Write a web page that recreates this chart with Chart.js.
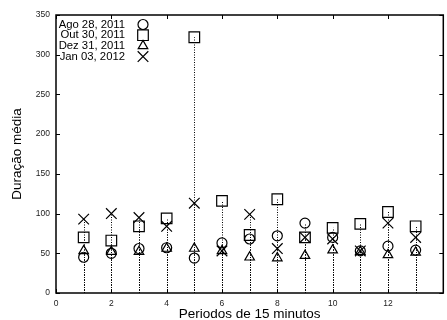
<!DOCTYPE html>
<html>
<head>
<meta charset="utf-8">
<script src="https://cdn.jsdelivr.net/npm/chart.js@4/dist/chart.umd.min.js"></script>
<style>
  html, body { margin: 0; padding: 0; overflow: hidden; background: #fff; }
  #wrap { width: 452px; height: 320px; }
</style>
</head>
<body>
<div id="wrap"><canvas id="chart" width="452" height="320"></canvas></div>
<script>
// periodos de 15 minutos
const periods = [1, 2, 3, 4, 5, 6, 7, 8, 9, 10, 11, 12, 13];

// duracao media por dia
const ago28 = [45, 50, 56, 57, 44, 63, 68, 72, 88, 70, 53, 59, 54];
const out30 = [70, 66, 84, 94, 322, 116, 73, 118, 70, 82, 87, 102, 84];
const dez31 = [53, 52, 52, 56, 56, 53, 45, 44, 47, 54, 52, 48, 51];
const jan03 = [93, 100, 95, 84, 113, 53, 99, 56, 70, 68, 53, 88, 70];

const seriesNames = ["Ago 28, 2011", "Out 30, 2011", "Dez 31, 2011", "Jan 03, 2012"];
const xTickLabels = [0, 2, 4, 6, 8, 10, 12];
const yTickLabels = [0, 50, 100, 150, 200, 250, 300, 350];

const FONT = "'Liberation Sans', Arial, Helvetica, sans-serif";

const toPoints = (values) => values.map((v, i) => ({ x: periods[i], y: v }));

const makeSet = (label, values, style, radius) => ({
  label: label,
  data: toPoints(values),
  pointStyle: style,
  pointRadius: radius,
  pointHoverRadius: radius,
  pointBorderWidth: 1.2,
  pointBorderColor: "#000",
  pointBackgroundColor: "rgba(0,0,0,0)",
  borderColor: "#000",
  backgroundColor: "rgba(0,0,0,0)",
  showLine: false,
});

// impulses, border box with inner ticks, key in the top left corner
const gnuplotLook = {
  id: "gnuplotLook",
  beforeDatasetsDraw(chart) {
    const { ctx, scales: { x, y } } = chart;
    ctx.save();
    ctx.strokeStyle = "#000";
    ctx.lineWidth = 1;
    ctx.setLineDash([1, 1.5]);
    chart.data.datasets.forEach((ds) => {
      ds.data.forEach((p) => {
        const px = Math.round(x.getPixelForValue(p.x)) + 0.5;
        ctx.beginPath();
        ctx.moveTo(px, y.getPixelForValue(0));
        ctx.lineTo(px, y.getPixelForValue(p.y));
        ctx.stroke();
      });
    });
    ctx.restore();
  },
  afterDatasetsDraw(chart) {
    const { ctx, chartArea: a, scales: { x, y } } = chart;
    ctx.save();
    ctx.strokeStyle = "#000";
    ctx.lineWidth = 1.5;
    ctx.strokeRect(a.left, a.top, a.right - a.left, a.bottom - a.top);

    ctx.lineWidth = 1;
    const tl = 4;
    ctx.beginPath();
    xTickLabels.forEach((v) => {
      const px = Math.round(x.getPixelForValue(v)) + 0.5;
      ctx.moveTo(px, a.bottom);
      ctx.lineTo(px, a.bottom - tl);
      ctx.moveTo(px, a.top);
      ctx.lineTo(px, a.top + tl);
    });
    yTickLabels.forEach((v) => {
      const py = Math.round(y.getPixelForValue(v)) + 0.5;
      ctx.moveTo(a.left, py);
      ctx.lineTo(a.left + tl, py);
      ctx.moveTo(a.right, py);
      ctx.lineTo(a.right - tl, py);
    });
    ctx.stroke();

    // key
    ctx.font = "11.3px " + FONT;
    ctx.fillStyle = "#000";
    ctx.textAlign = "right";
    ctx.textBaseline = "middle";
    chart.data.datasets.forEach((ds, i) => {
      const rowY = a.top + 9.5 + i * 10.7;
      ctx.fillText(ds.label, 125, rowY);
      ctx.strokeStyle = "#000";
      ctx.fillStyle = "rgba(0,0,0,0)";
      ctx.lineWidth = 1.2;
      Chart.helpers.drawPoint(ctx, {
        pointStyle: ds.pointStyle,
        radius: ds.pointRadius,
        rotation: 0,
        borderWidth: 1.2,
      }, 143, rowY);
      ctx.fillStyle = "#000";
    });
    ctx.restore();
  },
};

new Chart(document.getElementById("chart"), {
  type: "scatter",
  data: {
    datasets: [
      makeSet(seriesNames[0], ago28, "circle", 5),
      makeSet(seriesNames[1], out30, "rect", 7.5),
      makeSet(seriesNames[2], dez31, "triangle", 5.5),
      makeSet(seriesNames[3], jan03, "crossRot", 7.5),
    ],
  },
  options: {
    responsive: false,
    animation: false,
    devicePixelRatio: 1,
    layout: { padding: { top: 15, right: 2, left: 0, bottom: 0 } },
    plugins: {
      legend: { display: false },
      tooltip: { enabled: false },
    },
    scales: {
      x: {
        type: "linear",
        min: 0,
        max: 14,
        afterFit: (scale) => { scale.height = 27; },
        afterBuildTicks: (scale) => {
          scale.ticks = xTickLabels.map((v) => ({ value: v }));
        },
        grid: { display: false, drawTicks: false },
        border: { display: false },
        ticks: {
          padding: 6,
          color: "#222",
          font: { family: FONT, size: 8.5 },
          maxRotation: 0,
        },
        title: {
          display: true,
          text: "Periodos de 15 minutos",
          color: "#000",
          font: { family: FONT, size: 13.5, lineHeight: 0.85 },
          padding: { top: 0, bottom: 0 },
        },
      },
      y: {
        type: "linear",
        min: 0,
        max: 350,
        afterFit: (scale) => { scale.width = 56; },
        afterBuildTicks: (scale) => {
          scale.ticks = yTickLabels.map((v) => ({ value: v }));
        },
        grid: { display: false, drawTicks: false },
        border: { display: false },
        ticks: {
          padding: 6,
          color: "#222",
          font: { family: FONT, size: 8.5 },
        },
        title: {
          display: true,
          text: "Duração média",
          color: "#000",
          font: { family: FONT, size: 13.5, lineHeight: 1 },
          padding: { top: 11, bottom: 0 },
        },
      },
    },
  },
  plugins: [gnuplotLook],
});
</script>
</body>
</html>
